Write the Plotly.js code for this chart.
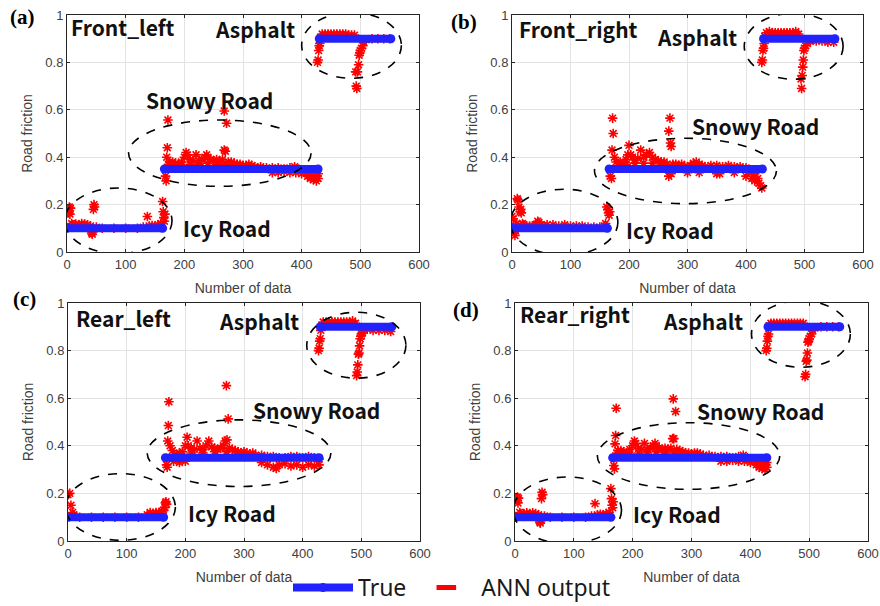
<!DOCTYPE html>
<html><head><meta charset="utf-8">
<script src="https://cdn.plot.ly/plotly-3.0.1.min.js"></script>
<style>body{margin:0;background:#fff}#chart{width:880px;height:606px}</style>
</head><body><div id="chart"></div>
<script>
const xTicks=[0,100,200,300,400,500,600];
const yTicks=[0,0.2,0.4,0.6,0.8,1];
const trueX=[0,163,null,166,428,null,430,552];
const trueY=[0.1,0.1,null,0.35,0.35,null,0.9,0.9];

// ANN output, Front_left
const flPts=[[0,0.17],[2,0.18],[3,0.165],[4,0.19],[5,0.16],[6,0.185],[8,0.12],[10,0.115],[15,0.118],[20,0.115],[25,0.12],[30,0.118],[35,0.115],[40,0.11],[42,0.08],[43,0.075],[44,0.085],[45,0.18],[46,0.2],[47,0.19],[50,0.105],[60,0.1],[80,0.1],[100,0.1],[120,0.1],[130,0.105],[137,0.15],[140,0.11],[145,0.112],[150,0.11],[155,0.115],[160,0.12],[163,0.213],[164,0.17],[165,0.145],[166,0.13],[167,0.16],
[168,0.32],[169,0.30],[170,0.40],[171,0.44],[172,0.557],[173,0.37],[175,0.38],[180,0.38],[185,0.375],[190,0.37],[195,0.38],[200,0.40],[203,0.42],[205,0.41],[210,0.39],[215,0.385],[220,0.41],[225,0.385],[230,0.39],[235,0.40],[238,0.41],[240,0.40],[245,0.39],[250,0.385],[255,0.39],[260,0.38],[265,0.39],[268,0.43],[270,0.425],[268,0.595],[272,0.543],[275,0.38],[280,0.38],[285,0.375],[290,0.37],[295,0.37],[300,0.365],[305,0.365],[310,0.37],[315,0.365],[320,0.36],[330,0.36],[340,0.355],[350,0.355],[360,0.355],[370,0.35],[380,0.355],[388,0.36],[395,0.35],[400,0.345],[405,0.34],[410,0.335],[415,0.33],[420,0.325],[425,0.32],[350,0.335],[360,0.335],[370,0.34],[380,0.335],[390,0.335],[400,0.33],[410,0.32],[415,0.31],[420,0.305],[425,0.30],[428,0.31],[428,0.33],[185,0.365],[195,0.365],[210,0.37],[225,0.37],[240,0.375],[255,0.37],[270,0.37],[285,0.365],
[427,0.80],[428,0.81],[429,0.85],[430,0.87],[431,0.88],[432,0.905],[435,0.92],[440,0.92],[445,0.92],[450,0.92],[455,0.92],[460,0.92],[465,0.92],[470,0.92],[475,0.92],[480,0.915],[485,0.915],[490,0.915],[492,0.76],[493,0.70],[494,0.69],[495,0.76],[497,0.79],[498,0.83],[499,0.84],[500,0.85],[502,0.86],[504,0.87],[506,0.885],[510,0.895],[520,0.9],[530,0.9],[540,0.9],[550,0.9]];

// ANN output, Front_right
const frPts=[[0,0.15],[2,0.14],[3,0.08],[5,0.07],[6,0.09],[8,0.12],[9,0.225],[10,0.22],[12,0.19],[14,0.17],[15,0.18],[16,0.165],[18,0.12],[20,0.115],[25,0.11],[30,0.11],[35,0.11],[40,0.115],[44,0.13],[46,0.125],[50,0.115],[55,0.11],[60,0.115],[70,0.115],[80,0.11],[90,0.115],[100,0.11],[110,0.11],[120,0.11],[130,0.105],[140,0.105],[150,0.105],[158,0.11],[160,0.12],[162,0.19],[164,0.18],[165,0.165],[166,0.155],[167,0.17],
[168,0.32],[170,0.31],[171,0.43],[172,0.565],[173,0.50],[175,0.40],[178,0.38],[185,0.38],[190,0.37],[195,0.39],[198,0.41],[200,0.45],[203,0.41],[206,0.40],[210,0.39],[215,0.395],[220,0.43],[225,0.40],[230,0.41],[235,0.42],[240,0.40],[245,0.39],[250,0.385],[255,0.38],[260,0.38],[265,0.37],[268,0.51],[270,0.565],[271,0.46],[272,0.445],[268,0.32],[272,0.33],[275,0.37],[280,0.37],[285,0.365],[290,0.37],[295,0.36],[300,0.36],[305,0.365],[310,0.375],[315,0.38],[320,0.37],[325,0.365],[330,0.36],[340,0.365],[350,0.365],[355,0.33],[360,0.36],[370,0.365],[380,0.36],[390,0.36],[400,0.355],[405,0.34],[410,0.335],[415,0.33],[420,0.31],[422,0.29],[425,0.28],[427,0.27],[300,0.335],[320,0.335],[350,0.33],[380,0.335],[400,0.32],[410,0.31],[415,0.30],[185,0.365],[195,0.37],[210,0.375],[225,0.375],[240,0.375],[255,0.37],
[427,0.80],[428,0.81],[429,0.85],[430,0.86],[431,0.88],[432,0.91],[435,0.925],[440,0.93],[445,0.925],[450,0.925],[455,0.925],[460,0.925],[465,0.925],[470,0.925],[475,0.925],[480,0.925],[485,0.93],[490,0.92],[494,0.73],[495,0.69],[496,0.745],[497,0.78],[498,0.81],[499,0.85],[500,0.86],[502,0.87],[505,0.88],[510,0.89],[515,0.895],[520,0.89],[530,0.89],[540,0.885],[550,0.885]];

// ANN output, Rear_left
const rlPts=[[0,0.195],[3,0.2],[5,0.15],[8,0.12],[10,0.11],[20,0.1],[40,0.1],[60,0.1],[80,0.1],[100,0.1],[120,0.1],[135,0.11],[140,0.12],[145,0.115],[150,0.12],[155,0.12],[160,0.125],[163,0.13],[165,0.14],[166,0.16],[167,0.165],[168,0.155],
[168,0.32],[169,0.31],[170,0.42],[171,0.485],[172,0.585],[174,0.40],[178,0.38],[182,0.36],[185,0.355],[190,0.37],[195,0.375],[200,0.40],[203,0.436],[205,0.40],[210,0.39],[215,0.385],[220,0.42],[225,0.39],[230,0.385],[235,0.40],[240,0.42],[245,0.395],[250,0.39],[255,0.385],[260,0.39],[265,0.40],[268,0.42],[270,0.653],[273,0.513],[271,0.425],[275,0.39],[280,0.385],[285,0.38],[290,0.375],[295,0.37],[300,0.375],[305,0.37],[310,0.365],[315,0.37],[320,0.36],[330,0.36],[340,0.355],[350,0.355],[360,0.35],[370,0.35],[380,0.355],[390,0.355],[400,0.35],[410,0.355],[420,0.35],[428,0.345],[180,0.335],[190,0.33],[200,0.335],[330,0.33],[340,0.32],[350,0.31],[355,0.305],[360,0.32],[370,0.325],[380,0.315],[390,0.32],[400,0.31],[410,0.32],[420,0.315],[428,0.32],[190,0.365],[210,0.37],[230,0.37],[250,0.375],[270,0.375],[290,0.365],
[427,0.80],[428,0.81],[429,0.84],[430,0.85],[431,0.885],[433,0.905],[435,0.92],[440,0.92],[445,0.92],[450,0.92],[455,0.92],[460,0.92],[465,0.92],[470,0.92],[475,0.92],[480,0.92],[485,0.925],[490,0.915],[492,0.695],[493,0.71],[494,0.74],[495,0.785],[496,0.79],[497,0.82],[498,0.85],[499,0.86],[500,0.87],[502,0.875],[505,0.885],[510,0.89],[520,0.885],[530,0.885],[540,0.885],[550,0.88]];

// ANN output, Rear_right
const rrPts=[[0,0.175],[2,0.18],[3,0.17],[4,0.185],[5,0.16],[6,0.18],[8,0.12],[10,0.115],[15,0.115],[20,0.118],[25,0.115],[30,0.118],[35,0.115],[40,0.11],[42,0.08],[43,0.075],[44,0.085],[45,0.178],[46,0.205],[47,0.195],[50,0.105],[60,0.1],[80,0.1],[100,0.1],[120,0.1],[130,0.105],[136,0.157],[140,0.11],[145,0.112],[150,0.11],[155,0.115],[160,0.12],[163,0.22],[164,0.178],[165,0.15],[166,0.14],[167,0.165],
[168,0.317],[169,0.303],[170,0.408],[171,0.443],[172,0.558],[173,0.37],[175,0.38],[180,0.38],[185,0.375],[190,0.37],[195,0.385],[200,0.40],[203,0.42],[205,0.41],[210,0.39],[215,0.385],[220,0.41],[225,0.385],[230,0.39],[235,0.40],[238,0.41],[240,0.40],[245,0.39],[250,0.385],[255,0.39],[260,0.385],[265,0.39],[268,0.43],[270,0.43],[269,0.597],[273,0.544],[275,0.385],[280,0.38],[285,0.375],[290,0.37],[295,0.37],[300,0.365],[305,0.37],[310,0.37],[315,0.365],[320,0.36],[330,0.36],[340,0.355],[350,0.355],[360,0.355],[370,0.35],[380,0.355],[388,0.36],[395,0.35],[400,0.345],[405,0.34],[410,0.335],[415,0.33],[420,0.325],[425,0.32],[350,0.335],[360,0.335],[370,0.34],[380,0.335],[390,0.335],[400,0.33],[410,0.32],[415,0.31],[420,0.305],[425,0.30],[428,0.31],[428,0.33],[185,0.365],[195,0.365],[210,0.37],[225,0.37],[240,0.375],[255,0.37],[270,0.37],[285,0.365],
[427,0.80],[428,0.81],[429,0.84],[430,0.86],[431,0.87],[432,0.905],[435,0.915],[440,0.915],[445,0.915],[450,0.915],[455,0.915],[460,0.915],[465,0.915],[470,0.915],[475,0.915],[480,0.915],[485,0.915],[490,0.915],[493,0.69],[494,0.70],[495,0.755],[496,0.76],[497,0.79],[498,0.835],[499,0.84],[500,0.85],[502,0.86],[504,0.87],[506,0.885],[510,0.895],[520,0.9],[530,0.9],[540,0.9],[550,0.9]];

const panelNames=['Front_left','Front_right','Rear_left','Rear_right'];
const panelTags=['(a)','(b)','(c)','(d)'];
const roadNames=['Asphalt','Snowy Road','Icy Road'];
const annSeries=[flPts,frPts,rlPts,rrPts];

// layout config per panel
const panels=[
 {dx:[67/880,419/880], dy:[1-252/606,1-15/606], tag:[22/880,1-17/606],
  name:[96,0.949], labels:[[320,0.941],[243,0.641],[273,0.101]],
  ell:[[400,570,0.733,1.011],[105,416,0.277,0.557],[-4,179,-0.007,0.27]]},
 {dx:[512/880,863/880], dy:[1-252/606,1-15/606], tag:[464/880,1-22/606],
  name:[113,0.941], labels:[[317,0.907],[416,0.532],[270,0.093]],
  ell:[[397,566,0.729,1.007],[141,452,0.204,0.48],[-3,181,-0.014,0.265]]},
 {dx:[68/880,420/880], dy:[1-541/606,1-303/606], tag:[24/880,1-299/606],
  name:[95,0.938], labels:[[326,0.925],[424,0.552],[279,0.117]],
  ell:[[407,576,0.684,0.961],[135,448,0.229,0.509],[-4,183,0.003,0.283]]},
 {dx:[515/880,868/880], dy:[1-541/606,1-303/606], tag:[466/880,1-310/606],
  name:[102,0.954], labels:[[320,0.925],[418,0.548],[275,0.113]],
  ell:[[402,570,0.73,1.01],[140,450,0.217,0.497],[-3,181,-0.011,0.269]]}
];

const tickFont={family:'Liberation Sans, Arial, sans-serif',size:13,color:'#404040'};
const titleFont={family:'Liberation Sans, Arial, sans-serif',size:14,color:'#404040'};
const labFont={family:'Noto Sans CJK KR, Noto Sans, sans-serif',size:21,color:'#111',weight:'bold'};
const data=[];
const layout={width:880,height:606,margin:{l:0,r:0,t:0,b:0,autoexpand:false},paper_bgcolor:'#fff',plot_bgcolor:'#fff',
  showlegend:true,
  legend:{orientation:'h',x:452/880,xanchor:'center',y:-0.005,yanchor:'bottom',
    font:{family:'Noto Sans, sans-serif',size:23,color:'#1a1a1a'},itemwidth:60,bgcolor:'rgba(0,0,0,0)'},
  annotations:[],shapes:[]};

panels.forEach((p,i)=>{
  const n=i+1, xs='x'+(n===1?'':n), ys='y'+(n===1?'':n);
  const xk='xaxis'+(n===1?'':n), yk='yaxis'+(n===1?'':n);
  const pts=annSeries[i];
  data.push({x:pts.map(q=>q[0]),y:pts.map(q=>q[1]),xaxis:xs,yaxis:ys,type:'scatter',mode:'markers',
    name:'ANN output',showlegend:false,
    marker:{symbol:'asterisk-open',size:8,color:'red',line:{color:'red',width:1.6}}});
  data.push({x:trueX,y:trueY,xaxis:xs,yaxis:ys,type:'scatter',mode:'lines+markers',name:'True',
    showlegend:i===0,line:{color:'#2222ff',width:8},
    marker:{size:9,color:'#2222ff'}});
  const axBase={showline:true,linecolor:'#262626',linewidth:1,mirror:'ticks',ticks:'inside',ticklen:3,
    tickcolor:'#262626',showgrid:true,gridcolor:'#e3e3e3',zeroline:false,tickfont:tickFont};
  layout[xk]=Object.assign({},axBase,{domain:p.dx,anchor:ys,range:[0,600],tickvals:xTicks,
    ticktext:xTicks.map(String),title:{text:'Number of data',font:titleFont,standoff:12}});
  layout[yk]=Object.assign({},axBase,{domain:p.dy,anchor:xs,range:[0,1],tickvals:yTicks,
    ticktext:yTicks.map(String),title:{text:'Road friction',font:titleFont,standoff:9}});
  layout.annotations.push({xref:'paper',yref:'paper',x:p.tag[0],y:p.tag[1],xanchor:'center',yanchor:'middle',text:panelTags[i],showarrow:false,
    font:{family:'Liberation Serif, Times New Roman, serif',size:21,color:'#000',weight:'bold'}});
  layout.annotations.push({xref:xs,yref:ys,x:p.name[0],y:p.name[1],xanchor:'center',yanchor:'middle',text:panelNames[i],showarrow:false,font:labFont});
  p.labels.forEach((l,j)=>layout.annotations.push({xref:xs,yref:ys,x:l[0],y:l[1],xanchor:'center',yanchor:'middle',text:roadNames[j],showarrow:false,font:labFont}));
  p.ell.forEach(e=>layout.shapes.push({type:'circle',xref:xs,yref:ys,x0:e[0],x1:e[1],y0:e[2],y1:e[3],
    line:{color:'#000',width:1.6,dash:'dash'}}));
});
// legend key for ANN output
data.push({x:[null],y:[null],type:'scatter',mode:'markers',name:'ANN output',
  marker:{symbol:'line-ew-open',size:14,color:'red',line:{color:'red',width:8}}});

Plotly.newPlot('chart',data,layout,{displayModeBar:false,staticPlot:true});
</script></body></html>
